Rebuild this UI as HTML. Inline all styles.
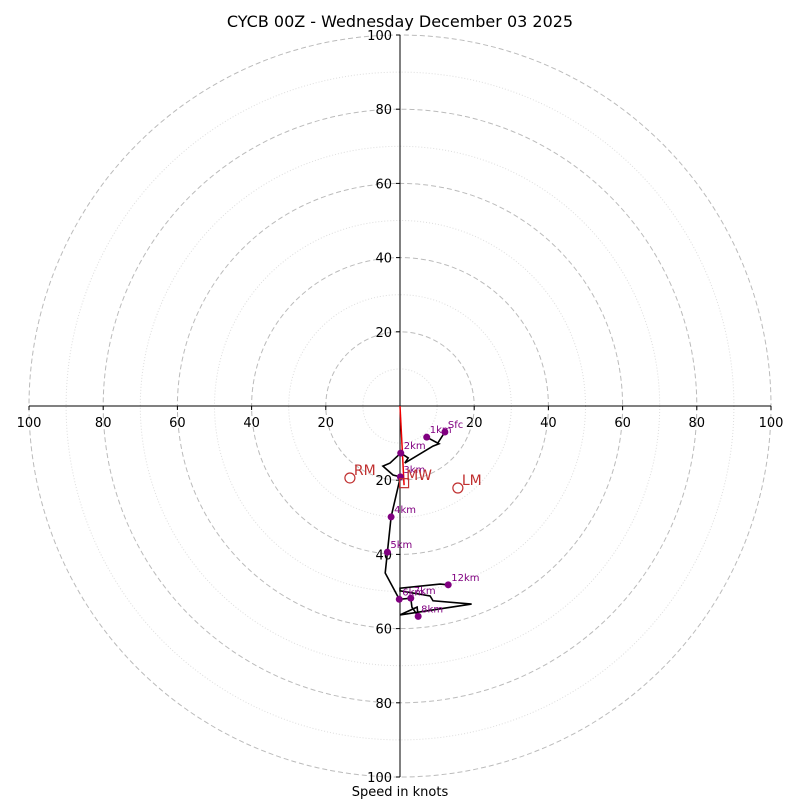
<!DOCTYPE html>
<html><head><meta charset="utf-8"><style>
body{margin:0;background:#fff}
svg{display:block;font-family:"DejaVu Sans","Liberation Sans",sans-serif}
</style></head><body>
<svg id="chart" width="800" height="800" viewBox="0 0 800 800">
<rect width="800" height="800" fill="#fff"/>
<text x="400" y="27" text-anchor="middle" font-size="16">CYCB 00Z - Wednesday December 03 2025</text>
<g id="rings"></g>
<g id="axes"></g>
<g id="trace"></g>
<text x="400" y="796" text-anchor="middle" font-size="13">Speed in knots</text>
</svg>
<script>
const ringValues=[10,20,30,40,50,60,70,80,90,100];
const tickLabels=[20,40,60,80,100];
const levelNames=['Sfc','1km','2km','3km','4km','5km','6km','7km','8km','12km'];
const uWind=[12.1,10.2,7.2,10.5,8.9,1.3,2.2,0.2,-2.7,-4.6,-1.9,0.1,-2.4,-3.4,-4.0,-0.2,2.9,3.2,4.9,4.6,0,19.3,8.9,8.1,0,0,10.8,13.0];
const vWind=[-7.0,-10.0,-8.4,-10.2,-10.8,-15.4,-14.0,-12.7,-15.4,-16.2,-18.6,-19.1,-29.9,-39.4,-45.0,-52.1,-51.8,-54.2,-56.7,-54.2,-56.3,-53.4,-52.5,-51.2,-49.8,-49.1,-48.0,-48.2];
const levelIndex=[0,2,7,11,12,13,15,16,18,27];
const motionNames=['RM','LM','MW'];
const motionU=[-13.5,15.6,1.1];
const motionV=[-19.4,-22.1,-20.8];

const NS='http://www.w3.org/2000/svg';
const cx=400,cy=406,scale=3.71;
const sx=u=>cx+u*scale, sy=v=>cy-v*scale;
function mk(tag,attrs,parent){const e=document.createElementNS(NS,tag);for(const k in attrs)e.setAttribute(k,attrs[k]);parent.appendChild(e);return e;}
const rings=document.getElementById('rings'),axes=document.getElementById('axes'),trace=document.getElementById('trace');
ringValues.forEach(r=>{
  const major=r%20===0;
  const c=mk('circle',{cx:cx,cy:cy,r:r*scale,fill:'none',stroke:major?'#bbb':'#ddd','stroke-width':1,'stroke-dasharray':major?'5,3':'1,2'},rings);
  
  
});
const hx=mk('line',{x1:sx(-100),y1:cy,x2:sx(100),y2:cy,stroke:'#000','stroke-width':1},axes);


const vy=mk('line',{x1:cx,y1:sy(100),x2:cx,y2:sy(-100),stroke:'#000','stroke-width':1},axes);


tickLabels.forEach(t=>{
  [-1,1].forEach(s=>{
    const x=sx(s*t);
    mk('line',{x1:x,y1:cy,x2:x,y2:cy+4,stroke:'#000'},axes);
    const tx=mk('text',{x:x,y:cy+21,'text-anchor':'middle','font-size':13},axes);
    tx.textContent=t;
    
    
    const y=sy(s*t);
    mk('line',{x1:cx-4,y1:y,x2:cx,y2:y,stroke:'#000'},axes);
    const ty=mk('text',{x:cx-8,y:y+5,'text-anchor':'end','font-size':13},axes);
    ty.textContent=t;
    
    
  });
});
// storm motion line to MW
const ml=mk('line',{x1:cx,y1:cy,x2:sx(motionU[2]),y2:sy(motionV[2])+2,stroke:'#e00','stroke-width':1.5},trace);


const pts=uWind.map((u,i)=>sx(u).toFixed(1)+','+sy(vWind[i]).toFixed(1)).join(' ');
const pl=mk('polyline',{points:pts,fill:'none',stroke:'#000','stroke-width':1.6},trace);


levelIndex.forEach((idx,k)=>{
  const x=sx(uWind[idx]),y=sy(vWind[idx]);
  const d=mk('circle',{cx:x,cy:y,r:3.5,fill:'#800080'},trace);
  
  
  const t=mk('text',{x:x+3,y:y-4,'font-size':10,fill:'#800080'},trace);
  t.textContent=levelNames[k];
  
  
});
motionNames.forEach((n,i)=>{
  const x=sx(motionU[i]),y=sy(motionV[i]);
  let m;
  if(n==='MW') m=mk('rect',{x:x-4.5,y:y-4.5,width:9,height:9,fill:'none',stroke:'#c03030','stroke-width':1.2},trace);
  else m=mk('circle',{cx:x,cy:y,r:5,fill:'none',stroke:'#c03030','stroke-width':1.2},trace);
  
  
  const t=mk('text',{x:x+(n==='MW'?2:4),y:y-3,'font-size':14,fill:'#c03030'},trace);
  t.textContent=n;
  
  
});
</script>
</body></html>
